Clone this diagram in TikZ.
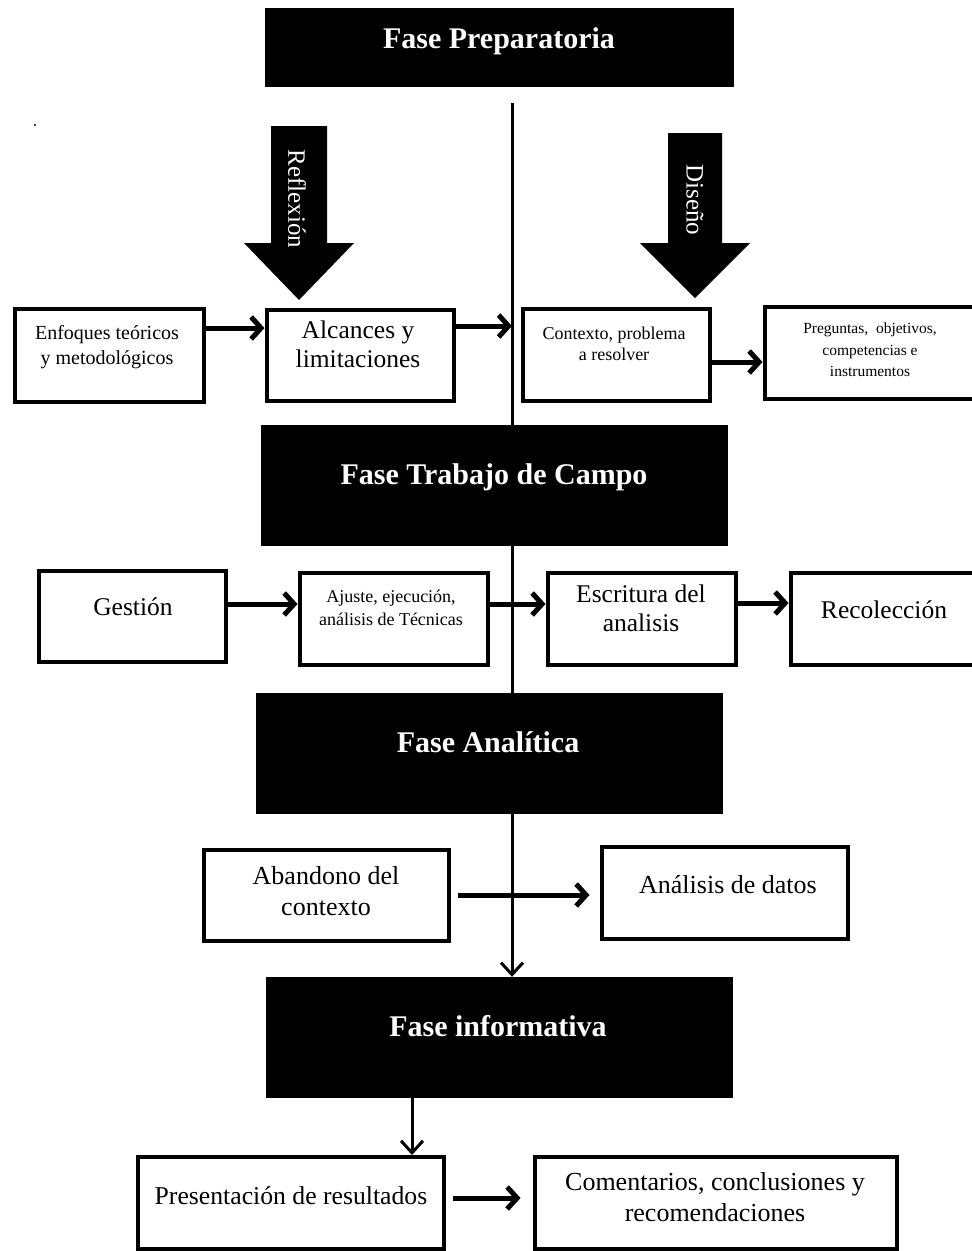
\documentclass[tikz,border=0pt]{standalone}
\usepackage{fontspec}
\setmainfont{Liberation Serif}
\usetikzlibrary{arrows.meta}
\tikzset{
  wbox/.style={draw=black, line width=4pt, fill=white, inner sep=0pt},
  phase/.style={fill=black, draw=black, inner sep=0pt},
  ptitle/.style={text=white, font=\bfseries\fontsize{30}{36}\selectfont, inner sep=0pt, anchor=base},
  btxt/.style={align=center, font=\fontsize{25.5}{29}\selectfont, inner sep=0pt},
  harrow/.style={line width=5pt, -{Straight Barb[length=10pt,width=22pt]}},
  vline/.style={line width=3pt},
  varrow/.style={line width=3pt, -{Straight Barb[length=12pt,width=22pt]}},
  bigarrow/.style={fill=black},
  vtxt/.style={text=white, rotate=-90, font=\fontsize{25}{30}\selectfont, inner sep=0pt},
}
\begin{document}
\begin{tikzpicture}[x=1pt,y=-1pt]
\useasboundingbox (0,0) rectangle (972,1251);
\clip (0,0) rectangle (972,1251);
\fill[white] (0,0) rectangle (972,1251);

% free end of the main vertical line
\coordinate (vtop) at (512,103);
\coordinate (vinf) at (412,1097);

% phase boxes
\node[phase, minimum width=468pt, minimum height=78pt] (prep) at (499,47) {};
\node[ptitle] (prep-t) at (499,48) {Fase Preparatoria};
\node[phase, minimum width=466pt, minimum height=120pt] (trab) at (494,485) {};
\node[ptitle] (trab-t) at (494,484) {Fase Trabajo de Campo};
\node[phase, minimum width=466pt, minimum height=120pt] (anal) at (489,753) {};
\node[ptitle] (anal-t) at (488,752) {Fase Analítica};
\node[phase, minimum width=466pt, minimum height=120pt] (info) at (499,1037) {};
\node[ptitle] (info-t) at (498,1036) {Fase informativa};

% main vertical line
\draw[vline] (vtop) -- (vtop |- trab.north);
\draw[vline] (vtop |- trab.south) -- (vtop |- anal.north);
\draw[varrow] (vtop |- anal.south) -- (vtop |- info.north);

% big block arrows
\fill[bigarrow] (271,126) -- (327,126) -- (327,243) -- (354,243) -- (299,300) -- (244,243) -- (271,243) -- cycle;
\node[vtxt] (refl) at (297,199) {Reflexión};
\fill[bigarrow] (668,133) -- (722,133) -- (722,243) -- (750,243) -- (695,298) -- (640,243) -- (668,243) -- cycle;
\node[vtxt] (dise) at (695,200) {Diseño};

\fill (35,125) circle (1.2pt);

% row 1
\node[wbox, minimum width=189pt, minimum height=93pt] (enf) at (109,355) {};
\node[align=center, inner sep=0pt, font=\fontsize{20}{25}\selectfont] (enf-t) at (107,347) {Enfoques teóricos\\y metodológicos};
\node[wbox, minimum width=187pt, minimum height=91pt] (alc) at (360,355) {};
\node[btxt] (alc-t) at (358,344) {Alcances y\\limitaciones};
\node[wbox, minimum width=187pt, minimum height=92pt] (ctx) at (616,354.5) {};
\node[align=center, inner sep=0pt, font=\fontsize{18}{21}\selectfont] (ctx-t) at (614,344) {Contexto, problema\\a resolver};
\node[wbox, minimum width=224pt, minimum height=92pt] (preg) at (876.5,352.5) {};
\node[align=center, inner sep=0pt, font=\fontsize{15.5}{21.5}\selectfont] (preg-t) at (870,350) {Preguntas,\ \ objetivos,\\competencias e\\instrumentos};

\draw[harrow] (enf.east |- 0,328) -- (alc.west |- 0,328);
\draw[harrow] (alc.east |- 0,326) -- (vtop |- 0,326);
\draw[harrow] (ctx.east |- 0,362) -- (preg.west |- 0,362);

% row 2
\node[wbox, minimum width=187pt, minimum height=91pt] (ges) at (132,616) {};
\node[btxt, anchor=base] (ges-t) at (133,615) {Gestión};
\node[wbox, minimum width=188pt, minimum height=92pt] (aju) at (393.5,618.5) {};
\node[align=center, inner sep=0pt, font=\fontsize{18}{23}\selectfont] (aju-t) at (391,608) {Ajuste, ejecución,\\análisis de Técnicas};
\node[wbox, minimum width=188pt, minimum height=92pt] (esc) at (641.5,618.5) {};
\node[btxt] (esc-t) at (641,608) {Escritura del\\analisis};
\node[wbox, minimum width=198pt, minimum height=92pt] (rec) at (889.5,618.5) {};
\node[btxt, anchor=base] (rec-t) at (884,618) {Recolección};

\draw[harrow] (ges.east |- 0,604) -- (aju.west |- 0,604);
\draw[harrow] (aju.east |- 0,604) -- (esc.west |- 0,604);
\draw[harrow] (esc.east |- 0,603) -- (rec.west |- 0,603);

% row 3
\node[wbox, minimum width=245pt, minimum height=91pt] (aba) at (326,895) {};
\node[align=center, inner sep=0pt, font=\fontsize{26}{31}\selectfont] (aba-t) at (326,891) {Abandono del\\contexto};
\node[wbox, minimum width=246pt, minimum height=92pt] (ana) at (724.5,892.5) {};
\node[inner sep=0pt, font=\fontsize{26}{31}\selectfont, anchor=base] (ana-t) at (728,893) {Análisis de datos};

\draw[harrow, shorten <=7pt, shorten >=10pt] (aba.east |- 0,895) -- (ana.west |- 0,895);

% row 4
\draw[varrow] (vinf |- info.south) -- (vinf |- 0,1155);
\node[wbox, minimum width=306pt, minimum height=92pt] (pre) at (290.5,1202.5) {};
\node[inner sep=0pt, font=\fontsize{25.7}{31}\selectfont, anchor=base] (pre-t) at (291,1204) {Presentación de resultados};
\node[wbox, minimum width=362pt, minimum height=92pt] (com) at (715.5,1202.5) {};
\node[align=center, inner sep=0pt, font=\fontsize{26}{31}\selectfont] (com-t) at (715,1197.5) {Comentarios, conclusiones y\\recomendaciones};

\draw[harrow, shorten <=7pt, shorten >=12pt] (pre.east |- 0,1198) -- (com.west |- 0,1198);
\end{tikzpicture}
\end{document}
